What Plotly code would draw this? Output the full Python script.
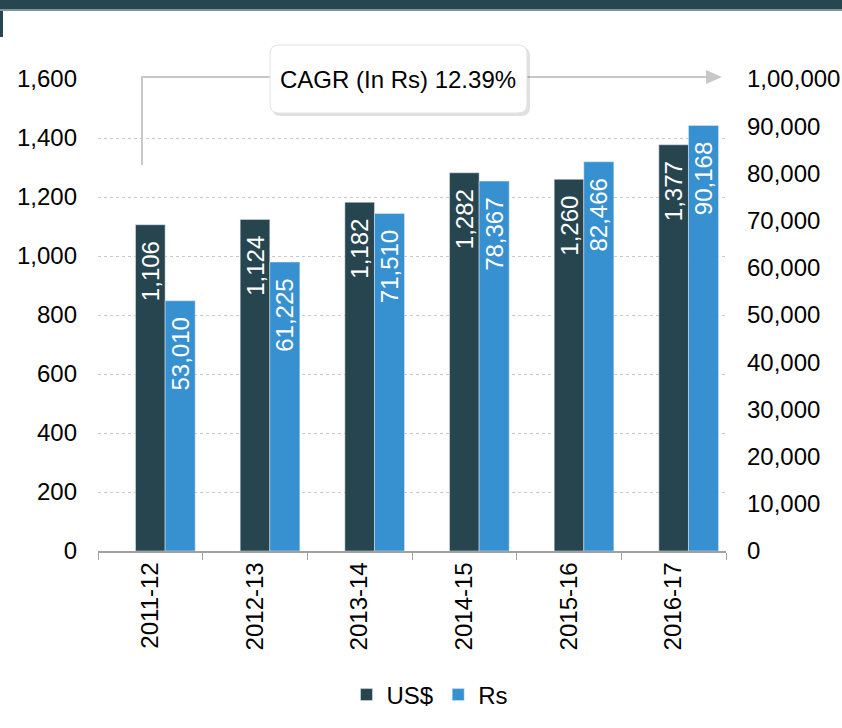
import plotly.graph_objects as go

# data
years = ["2011-12", "2012-13", "2013-14", "2014-15", "2015-16", "2016-17"]
usd = [1106, 1124, 1182, 1282, 1260, 1377]
rs = [53010, 61225, 71510, 78367, 82466, 90168]

left_ticks = [0, 200, 400, 600, 800, 1000, 1200, 1400, 1600]
right_ticks = [0, 10000, 20000, 30000, 40000, 50000, 60000, 70000, 80000, 90000, 100000]
right_labels = ["0", "10,000", "20,000", "30,000", "40,000", "50,000",
                "60,000", "70,000", "80,000", "90,000", "1,00,000"]
cagr_text = "CAGR (In Rs) 12.39%"

DARK = "#27454F"
BLUE = "#3790D0"
FONT = "Liberation Sans, Arial, sans-serif"
FS = 24

# plot area in pixels
L, R, T, B = 98, 116, 79, 177
W, H = 842, 728
PW, PH = W - L - R, H - T - B


def px(x):
    return (x - L) / PW


def py(y):
    return (H - B - y) / PH


pad = "\u00a0\u00a0"

fig = go.Figure()
fig.add_trace(go.Bar(
    x=years, y=usd, name="US$", marker_color=DARK,
    width=0.283, offset=-0.1415,
    text=[f"{v:,}" + pad for v in usd], textposition="inside",
    insidetextanchor="end", textangle=-90,
    textfont=dict(color="white", size=FS, family=FONT),
))
fig.add_trace(go.Bar(
    x=years, y=rs, name="Rs", marker_color=BLUE, yaxis="y2",
    width=0.287, offset=0.1415,
    text=[f"{v:,}" + pad for v in rs], textposition="inside",
    insidetextanchor="end", textangle=-90,
    textfont=dict(color="white", size=FS, family=FONT),
))

shapes = []
# header band
shapes.append(dict(type="rect", xref="paper", yref="paper", x0=px(0), x1=px(W),
                   y0=py(0), y1=py(9), fillcolor="#284650", line_width=0, layer="above"))
shapes.append(dict(type="rect", xref="paper", yref="paper", x0=px(0), x1=px(W),
                   y0=py(9), y1=py(11), fillcolor="#7f959b", line_width=0, layer="above"))
shapes.append(dict(type="rect", xref="paper", yref="paper", x0=px(0), x1=px(3),
                   y0=py(11), y1=py(37), fillcolor="#284650", line_width=0, layer="above"))

# CAGR connector with arrow
shapes.append(dict(type="path", xref="paper", yref="paper",
                   path=f"M {px(142)},{py(165)} L {px(142)},{py(77)} L {px(708)},{py(77)}",
                   line=dict(color="#c8c8c8", width=2)))
shapes.append(dict(type="path", xref="paper", yref="paper",
                   path=f"M {px(706)},{py(70)} L {px(722)},{py(77)} L {px(706)},{py(84)} Z",
                   fillcolor="#c8c8c8", line_width=0))


def rounded(x0, y0, x1, y1, r):
    return (f"M {px(x0 + r)},{py(y0)} L {px(x1 - r)},{py(y0)} "
            f"Q {px(x1)},{py(y0)} {px(x1)},{py(y0 + r)} L {px(x1)},{py(y1 - r)} "
            f"Q {px(x1)},{py(y1)} {px(x1 - r)},{py(y1)} L {px(x0 + r)},{py(y1)} "
            f"Q {px(x0)},{py(y1)} {px(x0)},{py(y1 - r)} L {px(x0)},{py(y0 + r)} "
            f"Q {px(x0)},{py(y0)} {px(x0 + r)},{py(y0)} Z")


# shadow and box
shapes.append(dict(type="path", xref="paper", yref="paper", path=rounded(272, 47, 530, 116, 9),
                   fillcolor="rgba(0,0,0,0.12)", line_width=0, layer="above"))
shapes.append(dict(type="path", xref="paper", yref="paper", path=rounded(270, 45, 527, 113, 9),
                   fillcolor="white", line=dict(color="#e2e2e2", width=1), layer="above"))

fig.update_layout(
    width=W, height=H,
    margin=dict(l=L, r=R, t=T, b=B, autoexpand=False),
    plot_bgcolor="white", paper_bgcolor="white",
    font=dict(family=FONT, size=FS, color="black"),
    showlegend=True,
    legend=dict(orientation="h", x=px(430), y=py(695), xanchor="center", yanchor="middle",
                font=dict(size=FS), itemwidth=30, traceorder="normal"),
    xaxis=dict(type="category", range=[-0.5, 5.5], tickangle=-90, automargin=False,
               showline=True, linecolor="#a0a0a0", linewidth=1.5,
               ticks="outside", tickson="boundaries", ticklen=7, tickcolor="#a0a0a0",
               showgrid=False, tickfont=dict(size=FS)),
    yaxis=dict(range=[0, 1600], tickvals=left_ticks, tickformat=",", automargin=False,
               showgrid=True, gridcolor="#c8c8c8", griddash="dot", gridwidth=1,
               zeroline=False, ticklabelstandoff=20, tickfont=dict(size=FS)),
    yaxis2=dict(range=[0, 100000], overlaying="y", side="right", automargin=False,
                tickvals=right_ticks, ticktext=right_labels, showgrid=False,
                zeroline=False, ticklabelstandoff=20, tickfont=dict(size=FS)),
    uniformtext=dict(minsize=FS, mode="show"),
    shapes=shapes,
    annotations=[dict(text=cagr_text, xref="paper", yref="paper", x=px(398), y=py(79),
                      showarrow=False, font=dict(size=FS, color="black"),
                      xanchor="center", yanchor="middle")],
)

# page body has a default 8px margin; drop it so the figure sits at the window corner
fig.write_html("out.html", config={"displayModeBar": False},
               post_script="document.body.style.margin='0';")
